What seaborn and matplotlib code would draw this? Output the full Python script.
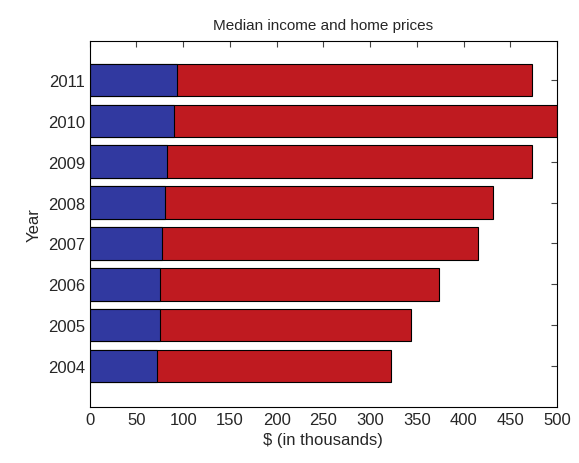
import matplotlib
matplotlib.use("Agg")
import matplotlib.pyplot as plt
import seaborn as sns
import pandas as pd
import numpy as np

years = ["2011", "2010", "2009", "2008", "2007", "2006", "2005", "2004"]
income = [93, 90, 83, 80, 77, 75, 75, 72]
home_price = [473, 500, 473, 431, 415, 374, 344, 322]

df = pd.DataFrame({"year": years, "income": income, "home": home_price})

sns.set_style("white")
plt.rcParams["font.family"] = ["Liberation Sans", "DejaVu Sans"]

fig = plt.figure(figsize=(5.79, 4.64), dpi=100)
ax = fig.add_axes([0.155, 0.121, 0.807, 0.788])

sns.barplot(data=df, x="home", y="year", order=years, orient="h",
            color="#bf1a20", saturation=1, width=0.8,
            edgecolor="black", linewidth=0.8, ax=ax)
sns.barplot(data=df, x="income", y="year", order=years, orient="h",
            color="#3139a0", saturation=1, width=0.8,
            edgecolor="black", linewidth=0.8, ax=ax)

ax.set_xlim(0, 500)
ax.set_ylim(8, -0.95)
ax.set_xticks(np.arange(0, 501, 50))
ax.tick_params(direction="in", top=True, right=True, length=4,
               labelsize=12, color="#444444")
ax.set_xlabel("$ (in thousands)", fontsize=12)
ax.set_ylabel("Year", fontsize=12)
ax.set_title("Median income and home prices", fontsize=11, pad=9)
for s in ax.spines.values():
    s.set_color("black")
    s.set_linewidth(0.8)

fig.savefig("out.png", dpi=100)
